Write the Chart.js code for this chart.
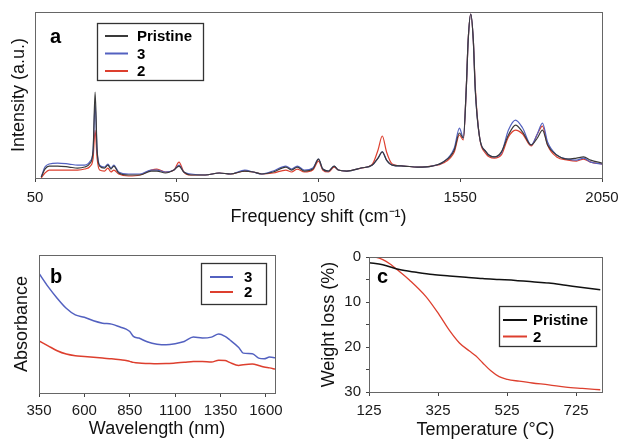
<!DOCTYPE html>
<html>
<head>
<meta charset="utf-8">
<style>
    html, body { margin: 0; padding: 0; background: #fff; width: 623px; height: 439px; overflow: hidden; }
    .panel { position: absolute; }
    #box-a { left: 0; top: 0; width: 623px; height: 232px; }
    #box-b { left: 0; top: 240px; width: 300px; height: 199px; }
    #box-c { left: 300px; top: 240px; width: 323px; height: 199px; }
</style>
<script src="https://cdn.jsdelivr.net/npm/chart.js@4.4.1/dist/chart.umd.min.js"></script>
</head>
<body>
<div class="panel" id="box-a"><canvas id="chart-a"></canvas></div>
<div class="panel" id="box-b"><canvas id="chart-b"></canvas></div>
<div class="panel" id="box-c"><canvas id="chart-c"></canvas></div>
<script>
// ── Data: (a) Raman spectra ──
const ramanShift = [72, 85, 100, 130, 170, 200, 225, 245, 255, 262,
    269, 278, 295, 307, 318, 328, 345, 380, 420, 460,
    480, 510, 540, 558, 575, 600, 650, 700, 740, 790,
    820, 850, 890, 935, 955, 975, 1000, 1030, 1050, 1065,
    1085, 1105, 1120, 1150, 1200, 1240, 1260, 1275, 1290, 1310,
    1350, 1400, 1450, 1490, 1529, 1547, 1561, 1571, 1578, 1587,
    1596, 1603, 1617, 1641, 1670, 1695, 1720, 1745, 1770, 1800,
    1822, 1840, 1858, 1890, 1930, 1960, 1985, 2010, 2050];
const ramanPristine = [0.6, 5.4, 7.2, 7.2, 6.6, 6.0, 6.6, 9.0, 16.9, 51.8,
    16.9, 7.2, 6.0, 7.8, 5.4, 7.2, 3.0, 1.8, 1.8, 4.2,
    4.2, 3.0, 4.8, 7.2, 3.6, 1.8, 1.8, 3.0, 2.4, 4.2,
    3.6, 2.4, 3.6, 6.6, 4.8, 6.6, 4.2, 5.4, 11.4, 5.4,
    4.2, 7.2, 4.8, 4.2, 6.0, 7.8, 12.0, 15.7, 10.8, 7.8,
    7.2, 6.6, 7.2, 9.6, 16.9, 27.1, 24.1, 53.0, 83.1, 98.8,
    83.1, 53.0, 25.9, 15.7, 12.7, 15.7, 25.9, 31.9, 27.7, 19.9,
    24.1, 28.9, 19.9, 13.9, 11.4, 12.0, 12.7, 10.8, 9.0];
const ramanS3 = [0.6, 6.6, 8.4, 9.0, 8.4, 7.8, 7.8, 10.2, 16.9, 44.6,
    16.9, 7.8, 6.6, 8.4, 6.0, 7.8, 3.6, 2.4, 2.4, 4.8,
    4.8, 3.6, 4.8, 7.8, 3.6, 2.4, 1.8, 3.0, 2.4, 4.8,
    3.6, 2.4, 4.2, 7.2, 5.4, 7.2, 4.8, 6.0, 11.4, 5.4,
    4.2, 7.2, 4.8, 4.2, 6.0, 7.8, 12.0, 15.7, 10.8, 7.8,
    7.2, 6.6, 7.2, 9.6, 18.1, 30.1, 24.1, 53.0, 83.1, 98.8,
    83.1, 53.0, 25.9, 15.7, 12.7, 15.1, 28.9, 34.9, 30.1, 19.9,
    26.5, 33.1, 21.7, 13.9, 11.4, 10.8, 12.0, 9.6, 8.4];
const ramanS2 = [0, 3.0, 4.8, 4.8, 4.8, 4.8, 5.4, 7.2, 12.0, 28.9,
    12.0, 4.8, 4.2, 6.0, 3.6, 4.8, 2.4, 1.2, 1.8, 4.8,
    5.4, 3.6, 4.8, 9.6, 3.6, 1.8, 1.8, 3.0, 2.4, 4.2,
    3.6, 2.4, 3.0, 4.8, 3.6, 5.4, 3.6, 4.8, 10.2, 4.8,
    3.6, 6.6, 4.8, 4.2, 6.0, 8.4, 16.9, 25.3, 15.7, 8.4,
    7.2, 6.6, 7.2, 9.0, 15.7, 25.9, 22.9, 53.0, 83.1, 98.8,
    83.1, 55.0, 25.9, 14.5, 12.0, 13.9, 24.7, 28.9, 26.5, 19.3,
    26.5, 31.3, 19.9, 12.7, 10.8, 10.2, 11.4, 9.6, 8.4];
const ramanTicks = [50, 550, 1050, 1550, 2050];

// ── Data: (b) absorption spectra ──
const wavelength = [350, 400, 450, 500, 550, 600, 650, 700, 750, 800,
    830, 850, 870, 900, 950, 1000, 1050, 1100, 1150, 1200,
    1250, 1300, 1340, 1375, 1400, 1450, 1475, 1525, 1560, 1590,
    1620, 1650];
const absS3 = [0.867, 0.771, 0.687, 0.614, 0.566, 0.549, 0.523, 0.506, 0.499, 0.477,
    0.463, 0.446, 0.410, 0.398, 0.369, 0.354, 0.349, 0.357, 0.373, 0.405,
    0.398, 0.405, 0.427, 0.410, 0.386, 0.330, 0.289, 0.284, 0.253, 0.248,
    0.260, 0.255];
const absS2 = [0.378, 0.342, 0.306, 0.282, 0.270, 0.265, 0.259, 0.253, 0.248, 0.241,
    0.236, 0.229, 0.222, 0.217, 0.214, 0.212, 0.213, 0.217, 0.222, 0.229,
    0.229, 0.224, 0.238, 0.236, 0.222, 0.200, 0.205, 0.210, 0.200, 0.188,
    0.182, 0.173];
const wavelengthTicks = [350, 600, 850, 1100, 1350, 1600];

// ── Data: (c) TGA ──
const tempPristine = [125, 165, 213, 262, 310, 358, 406, 454, 502, 550, 598, 646, 695, 743, 795];
const lossPristine = [1.3, 1.7, 2.8, 3.4, 3.9, 4.2, 4.5, 4.8, 5.0, 5.2, 5.5, 5.8, 6.3, 6.8, 7.3];
const tempS2 = [125, 146, 165, 185, 213, 242, 290, 329, 358, 387, 416, 435, 454, 478, 502, 526, 560, 598, 646, 695, 743, 795];
const lossS2 = [0, 0.1, 0.6, 1.5, 3.2, 5.1, 8.8, 12.9, 16.3, 19.1, 20.9, 22.0, 23.5, 25.3, 26.6, 27.2, 27.6, 28.0, 28.4, 28.9, 29.2, 29.5];
const tempTicks = [125, 325, 525, 725];
const lossTicks = [0, 5, 10, 15, 20, 25, 30];

const FONT = "'Liberation Sans', Arial, sans-serif";
Chart.defaults.font.family = FONT;
Chart.defaults.color = '#1a1a1a';

const BLACK = '#3a3a3a';
const BLUE = '#5361c0';
const RED = '#dd3f2e';

function pts(xs, ys) {
    return xs.map((x, i) => ({ x, y: ys[i] }));
}

function fixedTicks(values) {
    return scale => { scale.ticks = values.map(v => ({ value: v })); };
}

function line(label, xs, ys, color, width) {
    return {
        label,
        data: pts(xs, ys),
        borderColor: color,
        backgroundColor: color,
        borderWidth: width,
        pointRadius: 0,
        cubicInterpolationMode: 'monotone',
        fill: false,
    };
}

// frame, inset legend and panel letter
const decor = {
    id: 'decor',
    afterDatasetsDraw(chart, args, o) {
        const { ctx, chartArea: a } = chart;
        ctx.save();
        ctx.strokeStyle = '#666';
        ctx.lineWidth = 1;
        ctx.strokeRect(Math.round(a.left) + 0.5, Math.round(a.top) + 0.5,
            Math.round(a.right - a.left), Math.round(a.bottom - a.top));

        const lg = o.legend;
        ctx.fillStyle = '#fff';
        ctx.fillRect(lg.x, lg.y, lg.w, lg.h);
        ctx.strokeStyle = '#333';
        ctx.lineWidth = 1.3;
        ctx.strokeRect(lg.x + 0.5, lg.y + 0.5, lg.w, lg.h);
        ctx.font = 'bold 15px ' + FONT;
        ctx.textBaseline = 'middle';
        ctx.textAlign = 'left';
        chart.data.datasets.forEach((ds, i) => {
            const y = lg.y + lg.first + i * lg.step;
            ctx.strokeStyle = ds.borderColor;
            ctx.lineWidth = 2;
            ctx.beginPath();
            ctx.moveTo(lg.x + lg.l0, y);
            ctx.lineTo(lg.x + lg.l1, y);
            ctx.stroke();
            ctx.fillStyle = '#000';
            ctx.fillText(ds.label, lg.x + lg.tx, y + 1);
        });

        ctx.font = 'bold 20px ' + FONT;
        ctx.textBaseline = 'alphabetic';
        ctx.fillStyle = '#000';
        ctx.fillText(o.letter.text, o.letter.x, o.letter.y);
        ctx.restore();
    }
};

function xAxis(min, max, ticks, title, height, tickPad, titlePad) {
    return {
        type: 'linear',
        min, max,
        afterBuildTicks: fixedTicks(ticks),
        afterFit: s => { s.height = height; s.paddingLeft = 0; s.paddingRight = 0; },
        border: { display: false },
        grid: { display: true, drawOnChartArea: false, drawTicks: true, tickLength: 4, color: '#444' },
        ticks: {
            autoSkip: false, maxRotation: 0, padding: tickPad, color: '#1a1a1a', font: { size: 15 },
            callback: v => String(v),
        },
        title: { display: true, text: title, color: '#111', font: { size: 18, lineHeight: 1 }, padding: { top: 0, bottom: titlePad } },
    };
}

function baseOptions(scales, padding, letter, legend) {
    return {
        responsive: true,
        maintainAspectRatio: false,
        animation: false,
        devicePixelRatio: 1,
        layout: { padding },
        plugins: {
            legend: { display: false },
            tooltip: { enabled: false },
            decor: { letter, legend },
        },
        scales,
    };
}

// ── (a) Raman ──
new Chart(document.getElementById('chart-a'), {
    type: 'line',
    data: {
        datasets: [
            line('Pristine', ramanShift, ramanPristine, BLACK, 1.2),
            line('3', ramanShift, ramanS3, BLUE, 1.2),
            line('2', ramanShift, ramanS2, RED, 1.2),
        ]
    },
    options: baseOptions({
        x: xAxis(50, 2050, ramanTicks, 'Frequency shift (cm\u207B\u00B9)', 54, 7, 5.5),
        y: {
            min: 0, max: 100,
            afterFit: s => { s.width = 35; s.paddingTop = 0; s.paddingBottom = 0; },
            border: { display: false },
            grid: { display: false },
            ticks: { display: false },
            title: { display: true, text: 'Intensity (a.u.)', color: '#111', font: { size: 18, lineHeight: 1 }, padding: { top: 10.5, bottom: 0 } },
        }
    }, { top: 12, right: 21, left: 0, bottom: 0 },
    { text: 'a', x: 50, y: 43 },
    { x: 97, y: 23, w: 106, h: 57, first: 13, step: 17.5, l0: 8, l1: 31, tx: 40 }),
    plugins: [decor]
});

// ── (b) Absorbance ──
new Chart(document.getElementById('chart-b'), {
    type: 'line',
    data: {
        datasets: [
            line('3', wavelength, absS3, BLUE, 1.5),
            line('2', wavelength, absS2, RED, 1.5),
        ]
    },
    options: baseOptions({
        x: xAxis(350, 1650, wavelengthTicks, 'Wavelength (nm)', 46, 5, 1),
        y: {
            min: 0, max: 1,
            afterFit: s => { s.width = 39; s.paddingTop = 0; s.paddingBottom = 0; },
            border: { display: false },
            grid: { display: false },
            ticks: { display: false },
            title: { display: true, text: 'Absorbance', color: '#111', font: { size: 18, lineHeight: 1 }, padding: { top: 13, bottom: 0 } },
        }
    }, { top: 15, right: 25, left: 0, bottom: 0 },
    { text: 'b', x: 50, y: 43 },
    { x: 201, y: 23, w: 65, h: 41, first: 14, step: 15, l0: 9, l1: 32, tx: 43 }),
    plugins: [decor]
});

// ── (c) TGA ──
new Chart(document.getElementById('chart-c'), {
    type: 'line',
    data: {
        datasets: [
            line('Pristine', tempPristine, lossPristine, '#111', 1.5),
            line('2', tempS2, lossS2, RED, 1.3),
        ]
    },
    options: baseOptions({
        x: xAxis(125, 800, tempTicks, 'Temperature (\u00B0C)', 47, 6, 0),
        y: {
            min: 0, max: 30,
            reverse: true,
            afterBuildTicks: fixedTicks(lossTicks),
            afterFit: s => { s.width = 69; s.paddingTop = 0; s.paddingBottom = 0; },
            border: { display: false },
            grid: { display: true, drawOnChartArea: false, drawTicks: true, tickLength: 3, color: '#444' },
            ticks: {
                autoSkip: false, padding: 5, color: '#1a1a1a', font: { size: 15 },
                callback: v => (v % 10 === 0 ? String(v) : ''),
            },
            title: { display: true, text: 'Weight loss (%)', color: '#111', font: { size: 18, lineHeight: 1 }, padding: { top: 20, bottom: 0 } },
        }
    }, { top: 17, right: 21, left: 0, bottom: 0 },
    { text: 'c', x: 77, y: 43 },
    { x: 199, y: 66, w: 97, h: 40, first: 14, step: 16.5, l0: 4, l1: 28, tx: 34 }),
    plugins: [decor]
});
</script>
</body>
</html>
